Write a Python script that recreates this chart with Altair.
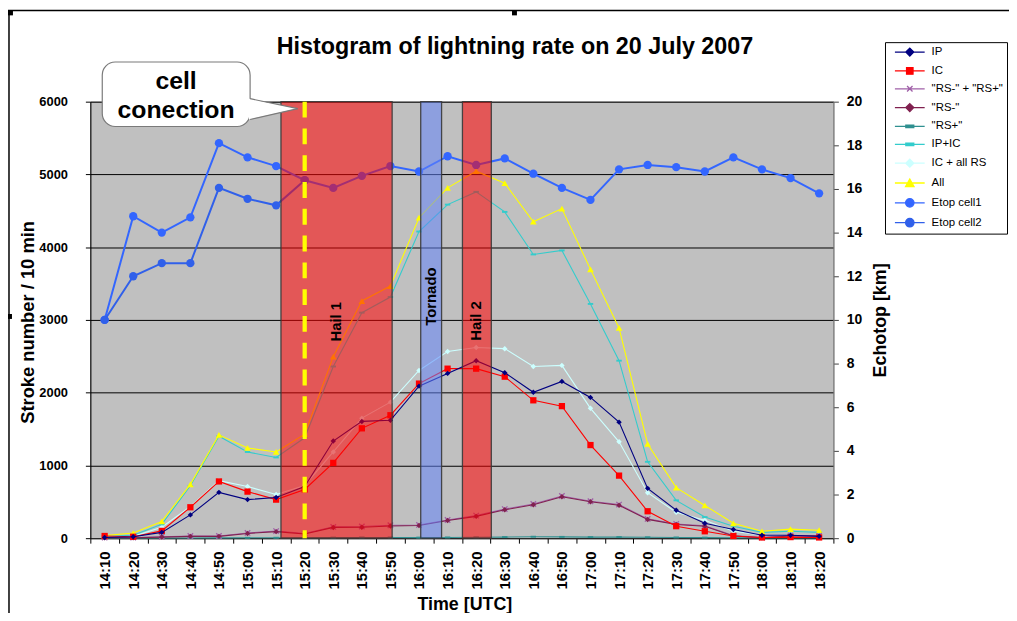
import altair as alt
import pandas as pd

FONT = "Liberation Sans"

# ---------------- data ----------------
times = ["14:10", "14:20", "14:30", "14:40", "14:50", "15:00", "15:10", "15:20", "15:30",
         "15:40", "15:50", "16:00", "16:10", "16:20", "16:30", "16:40", "16:50", "17:00",
         "17:10", "17:20", "17:30", "17:40", "17:50", "18:00", "18:10", "18:20"]
ip     = [10, 20, 80, 320, 630, 530, 560, 710, 1335, 1605, 1620, 2090, 2265, 2440, 2275, 2005,
          2155, 1935, 1595, 685, 385, 205, 120, 40, 40, 25]
ic     = [30, 20, 100, 425, 780, 640, 530, 670, 1035, 1510, 1690, 2125, 2330, 2330, 2220, 1895,
          1815, 1280, 860, 370, 165, 95, 30, 10, 15, 10]
rs_sum = [10, 10, 20, 30, 30, 72, 98, 65, 155, 160, 178, 182, 250, 310, 400, 470, 580, 508, 462,
          265, 195, 170, 35, 10, 35, 35]
rs_neg = [5, 5, 15, 25, 25, 65, 90, 58, 148, 150, 168, 175, 242, 300, 390, 460, 570, 500, 452,
          258, 188, 163, 30, 5, 30, 30]
rs_pos = [2, 2, 3, 3, 4, 5, 6, 6, 8, 10, 10, 8, 10, 12, 15, 20, 18, 15, 15, 12, 10, 8, 6, 5, 5, 5]
ip_ic  = [25, 40, 190, 720, 1400, 1185, 1110, 1380, 2360, 3100, 3315, 4215, 4585, 4760, 4485,
          3900, 3955, 3220, 2440, 1050, 520, 290, 165, 80, 95, 80]
ic_rs  = [30, 25, 150, 435, 790, 710, 600, 725, 1185, 1650, 1870, 2305, 2565, 2620, 2605, 2360,
          2375, 1785, 1325, 625, 355, 245, 95, 40, 35, 30]
all_   = [35, 70, 230, 740, 1420, 1240, 1185, 1430, 2495, 3260, 3465, 4405, 4815, 5045, 4880,
          4350, 4530, 3695, 2890, 1295, 695, 450, 205, 95, 125, 110]
etop1  = [10.0, 14.75, 14.0, 14.7, 18.1, 17.45, 17.05, 16.4, 16.05, 16.6, 17.05, 16.8, 17.5,
          17.1, 17.4, 16.7, 16.05, 15.5, 16.9, 17.1, 17.0, 16.8, 17.45, 16.9, 16.5, 15.8]
etop2  = [10.0, 12.0, 12.6, 12.6, 16.05, 15.55, 15.25, 16.4]

series_names = ["IP", "IC", '"RS-" + "RS+"', '"RS-"', '"RS+"', "IP+IC", "IC + all RS", "All",
                "Etop cell1", "Etop cell2"]
series_colors = ["#000080", "#FF0000", "#A060A8", "#80204F", "#2F9090", "#33CCCC", "#CCFFFF",
                 "#FFFF00", "#3366FF", "#3060EA"]

events = ["Hail 1", "Tornado", "Hail 2"]
event_start = [6.67, 11.56, 13.02]
event_end = [10.56, 12.29, 14.03]
event_fill = ["#FF0000", "#6283F8", "#FF0000"]
event_label_x = [8.61, 11.91, 13.51]
event_label_y = [2975, 3320, 2985]

connection_x = [7.5]
callout_lines = ["cell", "conection"]

title_text = "Histogram of lightning rate on 20 July 2007"

N = len(times)

# ---------------- shapes ----------------
P_X = "M-1,-1L1,1M-1,1L1,-1"
P_DASH = "M-1,-0.35H1V0.35H-1Z"
plot_shapes = ["diamond", "square", P_X, "diamond", P_DASH, P_DASH, "diamond", "triangle-up",
               "circle", "circle"]
plot_sizes = [30, 40, 30, 30, 30, 30, 30, 45, 70, 70]

LINE = "M-3,0H3"
legend_shapes = [
    LINE + "M0,-0.8L0.8,0L0,0.8L-0.8,0Z",
    LINE + "M-0.65,-0.65H0.65V0.65H-0.65Z",
    LINE + "M-0.55,-0.55L0.55,0.55M-0.55,0.55L0.55,-0.55",
    LINE + "M0,-0.8L0.8,0L0,0.8L-0.8,0Z",
    LINE + "M-0.8,-0.25H0.8V0.25H-0.8Z",
    LINE + "M-0.8,-0.25H0.8V0.25H-0.8Z",
    LINE + "M0,-0.8L0.8,0L0,0.8L-0.8,0Z",
    LINE + "M0,-0.8L0.85,0.7H-0.85Z",
    LINE + "M-0.85,0A0.85,0.85 0 1,0 0.85,0A0.85,0.85 0 1,0 -0.85,0Z",
    LINE + "M-0.85,0A0.85,0.85 0 1,0 0.85,0A0.85,0.85 0 1,0 -0.85,0Z",
]

# ---------------- scales / axes ----------------
XS = alt.Scale(domain=[0, N], nice=False, zero=False)
YL = alt.Scale(domain=[0, 6000], nice=False, zero=False)
YR = alt.Scale(domain=[0, 20], nice=False, zero=False)

x_axis = alt.Axis(
    tickBand="extent", labelAngle=270, labelOverlap=False,
    labelFont=FONT, labelFontSize=15, labelFontWeight="bold", labelColor="black",
    labelPadding=8, tickSize=5, tickColor="black", domainColor="#303030", grid=False,
    title="Time [UTC]", titleFont=FONT, titleFontSize=18, titleFontWeight="bold",
    titleColor="black", titleX=377, titleY=67, titleAngle=0, titleAlign="center",
    titleBaseline="middle",
)
yl_axis = alt.Axis(
    values=[0, 1000, 2000, 3000, 4000, 5000, 6000], format="d", grid=True,
    gridColor="black", gridWidth=1, gridOpacity=1, tickSize=5, tickColor="black",
    domainColor="black", labelFont=FONT, labelFontSize=13, labelFontWeight="bold",
    labelColor="black", labelPadding=18,
    title="Stroke number / 10 min", titleFont=FONT, titleFontSize=18.5,
    titleFontWeight="bold", titleColor="black", titleX=-63, titleY=222, titleAngle=270,
    titleAlign="center", titleBaseline="middle",
)
yr_axis = alt.Axis(
    orient="right", values=list(range(0, 21, 2)), grid=False, tickSize=5,
    tickColor="#404040", domainColor="#808080", labelFont=FONT, labelFontSize=14,
    labelFontWeight="bold", labelColor="black", labelPadding=8,
    title="Echotop [km]", titleFont=FONT, titleFontSize=18, titleFontWeight="bold",
    titleColor="black", titleX=48, titleY=220, titleAngle=270, titleAlign="center",
    titleBaseline="middle",
)


def X(field="x"):
    return alt.X(f"{field}:Q", scale=XS, axis=None)


def Y(field, scale, axis=None):
    return alt.Y(f"{field}:Q", scale=scale, axis=axis)


# ---------------- category axis layer ----------------
x_axis_layer = alt.Chart(pd.DataFrame({"t": times})).mark_tick(opacity=0).encode(
    x=alt.X("t:O", sort=times,
            scale=alt.Scale(type="band", domain=times, paddingInner=0, paddingOuter=0),
            axis=x_axis))

# ---------------- series layers ----------------
stroke_values = [ip, ic, rs_sum, rs_neg, rs_pos, ip_ic, ic_rs, all_]
draw_order = [6, 5, 7, 4, 2, 3, 1, 0]  # back to front

left_layers = []
for n, k in enumerate(draw_order):
    vals = stroke_values[k]
    df = pd.DataFrame({"x": [i + 0.5 for i in range(len(vals))], "v": vals})
    base = alt.Chart(df)
    line = base.mark_line(color=series_colors[k], strokeWidth=1.1).encode(
        x=X(), y=Y("v", YL, yl_axis if n == 0 else None))
    filled = plot_shapes[k] != P_X
    pts = base.mark_point(shape=plot_shapes[k], size=plot_sizes[k], filled=filled,
                          color=series_colors[k], opacity=1,
                          strokeWidth=1.3 if not filled else 0).encode(
        x=X(), y=Y("v", YL))
    left_layers += [line, pts]

right_layers = []
for k, vals in ((8, etop1), (9, etop2)):
    df = pd.DataFrame({"x": [i + 0.5 for i in range(len(vals))], "v": vals})
    base = alt.Chart(df)
    line = base.mark_line(color=series_colors[k], strokeWidth=2).encode(
        x=X(), y=Y("v", YR, yr_axis if k == 8 else None))
    pts = base.mark_point(shape="circle", size=plot_sizes[k], filled=True,
                          color=series_colors[k], opacity=1).encode(x=X(), y=Y("v", YR))
    right_layers += [line, pts]

# ---------------- overlays ----------------
ev_df = pd.DataFrame({"event": events, "x0": event_start, "x1": event_end,
                      "fill": event_fill, "y0": 0, "y1": 6000,
                      "lx": event_label_x, "ly": event_label_y})
boxes = alt.Chart(ev_df).mark_rect(fillOpacity=0.55, stroke="#383838", strokeWidth=1.3,
                                   strokeOpacity=0.9).encode(
    x=X("x0"), x2="x1", y=Y("y0", YL), y2="y1",
    fill=alt.Fill("fill:N", scale=None))
box_text = alt.Chart(ev_df).mark_text(angle=270, font=FONT, fontSize=15, fontWeight="bold",
                                      color="black", baseline="middle", align="center").encode(
    x=X("lx"), y=Y("ly", YL), text="event:N")

conn_df = pd.DataFrame({"x": connection_x, "y0": 6000, "y1": 0})
conn = alt.Chart(conn_df).mark_rule(color="#FFFF00", strokeWidth=4.3,
                                    strokeDash=[16, 11]).encode(
    x=X(), y=Y("y0", YL), y2="y1")

call_df = pd.DataFrame({"x0": [0.417], "x1": [5.59], "y0": [5659], "y1": [6545]})
call_rect = alt.Chart(call_df).mark_rect(fill="white", stroke="#7a7a7a", strokeWidth=1.2,
                                         cornerRadius=13).encode(
    x=X("x0"), x2="x1", y=Y("y0", YL), y2="y1")
tail_df = pd.DataFrame({"x": [5.55, 7.26], "lo": [5755, 5905], "hi": [6041, 5905]})
tail = alt.Chart(tail_df).mark_area(color="white", opacity=1).encode(
    x=X(), y=Y("lo", YL), y2="hi")
tail_edges_df = pd.DataFrame({"x0": [5.59, 5.59], "x1": [7.26, 7.26],
                              "y0": [6041, 5755], "y1": [5905, 5905]})
tail_edges = alt.Chart(tail_edges_df).mark_rule(color="#7a7a7a", strokeWidth=1.2).encode(
    x=X("x0"), x2="x1", y=Y("y0", YL), y2="y1")
call_text_df = pd.DataFrame({"x": [3.0, 3.0], "y": [6290, 5885], "t": callout_lines})
call_text = alt.Chart(call_text_df).mark_text(font=FONT, fontSize=25, fontWeight="bold",
                                              color="black", baseline="middle",
                                              align="center").encode(
    x=X(), y=Y("y", YL), text="t:N")

title = alt.Chart(pd.DataFrame({"t": [title_text]})).mark_text(
    font=FONT, fontSize=23.5, fontWeight="bold", color="black", align="center",
    baseline="alphabetic").encode(text="t:N", x=alt.value(428), y=alt.value(-48))

# ---------------- legend (legend-only layer) ----------------
LEG = alt.Legend(title=None, orient="none", legendX=801, legendY=-60, direction="vertical",
                 strokeColor="black", fillColor="white", padding=4, labelFont=FONT,
                 labelFontSize=11.5, labelColor="black", symbolSize=100,
                 symbolStrokeWidth=1.3, rowPadding=6, labelOffset=16, symbolOffset=15,
                 labelLimit=200, cornerRadius=0)
leg_df = pd.DataFrame({"series": series_names, "x": 0.0, "v": 0.0})
legend_layer = alt.Chart(leg_df).mark_point(filled=True).encode(
    x=X(), y=Y("v", YL),
    fill=alt.Fill("series:N", scale=alt.Scale(domain=series_names, range=series_colors),
                  legend=LEG),
    stroke=alt.Stroke("series:N", scale=alt.Scale(domain=series_names, range=series_colors),
                      legend=LEG),
    shape=alt.Shape("series:N", scale=alt.Scale(domain=series_names, range=legend_shapes),
                    legend=LEG),
).transform_filter("false")

# ---------------- frame of the chart object ----------------
one = pd.DataFrame({"a": [0]})
frame_top = alt.Chart(one).mark_rule(color="black", strokeWidth=1.5).encode(
    x=alt.value(-83), x2=alt.value(930), y=alt.value(-92))
frame_left = alt.Chart(one).mark_rule(color="black", strokeWidth=1.5).encode(
    x=alt.value(-82), y=alt.value(-92), y2=alt.value(530))
handle_a = alt.Chart(one).mark_rect(color="black").encode(
    x=alt.value(-83), x2=alt.value(-78), y=alt.value(-92), y2=alt.value(-87))
handle_b = alt.Chart(one).mark_rect(color="black").encode(
    x=alt.value(425), x2=alt.value(430), y=alt.value(-92), y2=alt.value(-87))
handle_c = alt.Chart(one).mark_rect(color="black").encode(
    x=alt.value(-84), x2=alt.value(-79), y=alt.value(214), y2=alt.value(219))

overlay = [boxes, conn, box_text, call_rect, tail, tail_edges, call_text, title, legend_layer,
           frame_top, frame_left, handle_a, handle_b, handle_c]

chart = alt.layer(x_axis_layer, *left_layers, *right_layers, *overlay).resolve_scale(
    y="independent", x="independent").properties(
    width=749, height=440,
    padding={"left": 83, "top": 92, "right": 177, "bottom": 73},
    autosize=alt.AutoSizeParams(type="none"),
    background="white",
).configure_view(fill="#C0C0C0", stroke="#808080", strokeWidth=1)

chart.save("out.html", embed_options={"renderer": "svg", "actions": False})
